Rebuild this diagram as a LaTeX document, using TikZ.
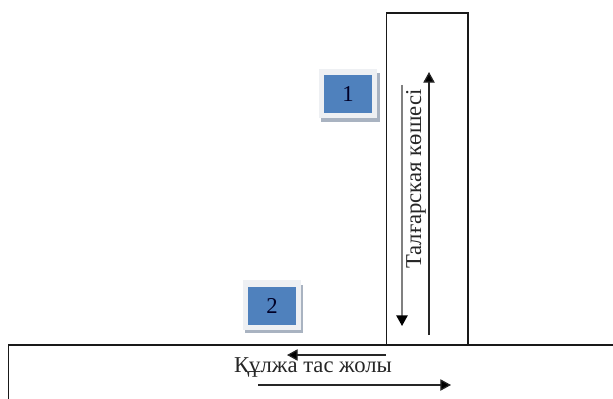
\documentclass[tikz,border=0pt]{standalone}
\usepackage{fontspec}
\setmainfont{Liberation Serif}
\usetikzlibrary{arrows.meta}
\definecolor{boxblue}{HTML}{4F81BD}
\definecolor{boxrim}{HTML}{EEF0F3}
\definecolor{boxshade}{HTML}{A9B3C1}
\tikzset{
  x=0.75pt,y=-0.75pt,
  road/.style={draw=black!90,line width=0.85pt},
  flow/.style={draw=black!85,line width=0.95pt,-{Triangle[length=8pt,width=8.5pt,fill=black]}},
  flowgrey/.style={flow,draw=black!50,line width=1.2pt,-{Triangle[length=8pt,width=8.5pt,fill=black,color=black]}},
  marker/.style={fill=boxblue,minimum width=36pt,minimum height=28.5pt,inner sep=0pt,font=\fontsize{17}{19}\selectfont,text=black!85!blue},
  lab/.style={inner sep=0pt,font=\fontsize{17}{19}\selectfont,text=black!85}
}
\begin{document}
\begin{tikzpicture}
\useasboundingbox (0,0) rectangle (613,399);
% markers
\fill[boxshade] (321,73) rectangle (380,122);
\fill[boxrim] (319,69) rectangle (377,118);
\node[marker] (m1) at (348,94) {1};
\fill[boxshade] (245,285) rectangle (303,333);
\fill[boxrim] (243,280) rectangle (301,330);
\node[marker] (m2) at (272,305.5) {2};
% roads
\draw[road] (386.5,345) -- (386.5,13) -- (468,13) -- (468,345);
\draw[road] (8.5,399) -- (8.5,345) -- (613,345);
% labels
\node[lab,rotate=90] (t1) at (416,179) {Талғарская көшесі};
\node[lab] (t2) at (313,367) {Құлжа тас жолы};
% arrows
\coordinate (a1s) at (429,335); \coordinate (a1e) at (429,72);
\coordinate (a2s) at (402,85); \coordinate (a2e) at (402,326);
\coordinate (a3s) at (386,355); \coordinate (a3e) at (287,355);
\coordinate (a4s) at (258,385); \coordinate (a4e) at (451,385);
\draw[flow] (a1s) -- (a1e);
\draw[flowgrey] (a2s) -- (a2e);
\draw[flow] (a3s) -- (a3e);
\draw[flow] (a4s) -- (a4e);
\end{tikzpicture}
\end{document}
